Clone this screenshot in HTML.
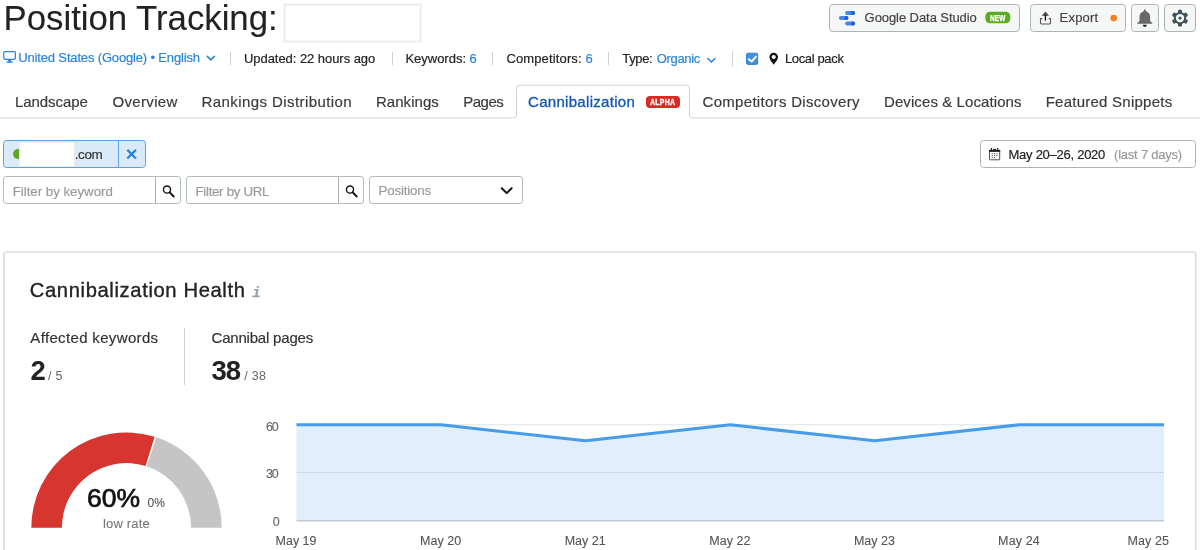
<!DOCTYPE html>
<html><head><meta charset="utf-8"><title>Position Tracking</title>
<style>
*{box-sizing:border-box;margin:0;padding:0}
html,body{width:1200px;height:550px;overflow:hidden;background:#fff}
body{font-family:"Liberation Sans", sans-serif;color:#333;position:relative}
.a{position:absolute}
.t{position:absolute;white-space:nowrap;line-height:1}
.L{position:absolute;left:0;top:0;width:1200px;height:550px;will-change:transform}
.sep{position:absolute;width:1px;background:#cfcfcf}
.btn{position:absolute;border:1px solid #adb4b8;border-radius:3.5px;background:#f5f6f6}
.inp{position:absolute;border:1px solid #b4bcc0;border-radius:3px;background:#fff}
svg{position:absolute;overflow:visible}
</style></head><body>
<div class="L">
<!-- title redaction box -->
<svg style="left:0;top:0" width="1200" height="550" viewBox="0 0 1200 550"><rect x="284.5" y="4.5" width="136" height="37" fill="#fff" stroke="#ececec" stroke-width="2"/></svg>

<!-- monitor icon -->
<svg style="left:0;top:0" width="1200" height="550" viewBox="0 0 1200 550">
 <g fill="none" stroke="#2b84d8" stroke-width="1.2">
  <rect x="3.8" y="51.7" width="11.6" height="7.6" rx="1.3"/>
 </g>
 <path d="M8.2 59.5h2.8v2h1.8v1.2H6.4v-1.2h1.8z" fill="#2b84d8"/>
 <!-- chevrons -->
 <path d="M207.3 56.4l3.5 3.5 3.5-3.5" fill="none" stroke="#2b84d8" stroke-width="1.5" stroke-linecap="round" stroke-linejoin="round"/>
 <path d="M707.9 58.5l3.5 3.5 3.5-3.5" fill="none" stroke="#2b84d8" stroke-width="1.5" stroke-linecap="round" stroke-linejoin="round"/>
 <!-- checkbox -->
 <rect x="746.5" y="53.2" width="11.2" height="11.2" rx="1.4" fill="#438fdd" stroke="#2b84d8" stroke-width="1"/>
 <path d="M748.8 59.3l2.8 2.3 4.4-5" fill="none" stroke="#fff" stroke-width="1.9" stroke-linecap="round" stroke-linejoin="round"/>
 <!-- pin -->
 <path d="M773.7 52.8a4.3 4.3 0 0 1 4.3 4.3c0 2.6-2.6 5.2-4.3 7.7c-1.7-2.5-4.3-5.1-4.3-7.7a4.3 4.3 0 0 1 4.3-4.3z" fill="#111"/>
 <circle cx="773.7" cy="57" r="2.1" fill="#fff"/>
</svg>
<div class="sep" style="left:230px;top:52px;height:13px"></div>
<div class="sep" style="left:392px;top:52px;height:13px"></div>
<div class="sep" style="left:492px;top:52px;height:13px"></div>
<div class="sep" style="left:608px;top:52px;height:13px"></div>
<div class="sep" style="left:732px;top:51px;height:15px"></div>

<!-- top-right buttons -->
<div class="btn" style="left:829px;top:4px;width:191px;height:28px"></div>
<div class="btn" style="left:1030px;top:4px;width:95.5px;height:28px"></div>
<div class="btn" style="left:1131px;top:4px;width:28px;height:28px"></div>
<div class="btn" style="left:1164px;top:4px;width:32px;height:28px"></div>
<svg style="left:0;top:0" width="1200" height="550" viewBox="0 0 1200 550">
 <!-- data studio -->
 <rect x="845.1" y="10.9" width="9.9" height="4" rx="2" fill="#4a86ea"/>
 <rect x="851" y="10.9" width="4" height="4" rx="2" fill="#1a5fe0"/>
 <rect x="838.9" y="16.1" width="9.5" height="4" rx="2" fill="#4a86ea"/>
 <rect x="844.4" y="16.1" width="4" height="4" rx="2" fill="#1a5fe0"/>
 <rect x="845.1" y="21.6" width="9.9" height="4" rx="2" fill="#4a86ea"/>
 <rect x="851" y="21.6" width="4" height="4" rx="2" fill="#1a5fe0"/>
 <!-- new badge -->
 <rect x="985.4" y="11.7" width="24.9" height="11.6" rx="4.5" fill="#5cab25"/>
 <!-- export icon -->
 <path d="M1045.4 11.8l3.7 4h-7.4z" fill="#444"/>
 <path d="M1045.4 15v5.6" stroke="#111" stroke-width="1.3" fill="none"/>
 <path d="M1042.3 18.6h-1.8v4.5q0 .9 .9 .9h8.2q.9 0 .9-.9v-4.5h-1.8" fill="none" stroke="#555" stroke-width="1.1"/>
 <!-- orange dot -->
 <circle cx="1113.8" cy="18.1" r="3.3" fill="#f0811f"/>
 <!-- bell -->
 <path d="M1144.8 9.6a1 1 0 0 1 1 1v.7c2.6.5 4.3 2.7 4.3 5.5v4.2l2.2 2v.8h-15v-.8l2.2-2v-4.2c0-2.8 1.7-5 4.3-5.5v-.7a1 1 0 0 1 1-1z" fill="#686868"/>
 <path d="M1142.7 24.8h4.2a2.1 2.1 0 0 1-4.2 0z" fill="#222"/>
 <!-- gear -->
 <g transform="translate(1180 18.1)" fill="#3f5159">
  <circle r="6.2"/>
  <g>
   <rect x="-2" y="-8.3" width="4" height="16.6" rx="1"/>
   <rect x="-2" y="-8.3" width="4" height="16.6" rx="1" transform="rotate(60)"/>
   <rect x="-2" y="-8.3" width="4" height="16.6" rx="1" transform="rotate(120)"/>
  </g>
  <circle r="4.2" fill="#f7f8f8"/>
  <circle r="1.6"/>
 </g>
</svg>
<div class="t" style="left:989.8px;top:14.2px;font-size:8.3px;font-weight:700;color:#fff;letter-spacing:.2px;-webkit-text-stroke:.25px #fff;transform:scaleX(.78);transform-origin:0 0">NEW</div>

<!-- tabs -->
<svg style="left:0;top:0" width="1200" height="550" viewBox="0 0 1200 550">
 <path d="M0 118H513.5Q516.5 118 516.5 115V88.6Q516.5 85.1 520 85.1H686Q689.5 85.1 689.5 88.6V115Q689.5 118 692.5 118H1200" fill="none" stroke="#cfd2d5" stroke-width="1"/>
</svg>
<div class="a" style="left:646.4px;top:96.3px;width:34px;height:11.6px;border-radius:4px;background:#dc2a22"></div>
<div class="t" style="left:650px;top:98.3px;font-size:8.4px;font-weight:700;color:#fff;letter-spacing:.3px;-webkit-text-stroke:.3px #fff;transform:scaleX(.83);transform-origin:0 0">ALPHA</div>

<!-- domain chip -->
<div class="a" style="left:3px;top:140px;width:142.5px;height:28px;border:1px solid #5f9fe3;border-radius:3.5px;background:#dbeaf8"></div>
<div class="a" style="left:118px;top:140px;width:1px;height:28px;background:#5f9fe3"></div>
<div class="a" style="left:13px;top:149.2px;width:10px;height:10px;border-radius:5px;background:#59a81f"></div>
<div class="a" style="left:20px;top:142.8px;width:53.5px;height:23.4px;background:#fff;box-shadow:0 0 0 1px #ececec"></div>
<svg style="left:0;top:0" width="1200" height="550" viewBox="0 0 1200 550">
 <path d="M127.3 149.9l8.6 8.6M135.9 149.9l-8.6 8.6" stroke="#2b80d8" stroke-width="2.2" fill="none"/>
</svg>

<!-- filters -->
<div class="inp" style="left:3px;top:176px;width:178px;height:28px"></div>
<div class="a" style="left:155px;top:177px;width:1px;height:26px;background:#a9adb0"></div>
<div class="inp" style="left:186px;top:176px;width:178px;height:28px"></div>
<div class="a" style="left:338px;top:177px;width:1px;height:26px;background:#a9adb0"></div>
<div class="inp" style="left:369px;top:176px;width:154px;height:28px"></div>
<svg style="left:0;top:0" width="1200" height="550" viewBox="0 0 1200 550">
 <g fill="none" stroke="#111">
  <circle cx="167" cy="189.6" r="3.55" stroke-width="1.4"/>
  <path d="M169.7 192.4l4 4.1" stroke-width="1.9" stroke-linecap="round"/>
  <circle cx="350" cy="189.6" r="3.55" stroke-width="1.4"/>
  <path d="M352.7 192.4l4 4.1" stroke-width="1.9" stroke-linecap="round"/>
  <path d="M501.8 188.2l4.9 4.9 4.9-4.9" stroke-width="2" stroke-linecap="round" stroke-linejoin="round"/>
 </g>
</svg>

<!-- date button -->
<div class="a" style="left:980px;top:140px;width:216px;height:28px;border:1px solid #aab4b8;border-radius:3.5px;background:#fff"></div>
<svg style="left:0;top:0" width="1200" height="550" viewBox="0 0 1200 550">
 <rect x="989.5" y="150.4" width="10.2" height="9.4" rx=".8" fill="#fff" stroke="#3a3a3a" stroke-width=".9"/>
 <rect x="989" y="149.9" width="11.2" height="2" fill="#222"/>
 <rect x="990.8" y="148" width="1.2" height="2.2" fill="#222"/>
 <rect x="997.1" y="148" width="1.2" height="2.2" fill="#222"/>
 <rect x="993.2" y="148.8" width="2.8" height="1.5" fill="#222"/>
 <g fill="#555">
  <rect x="991.7" y="153.1" width="1.1" height="1.1"/><rect x="994" y="153.1" width="1.1" height="1.1"/><rect x="996.3" y="153.1" width="1.1" height="1.1"/>
  <rect x="991.7" y="155.1" width="1.1" height="1.1"/><rect x="994" y="155.1" width="1.1" height="1.1"/><rect x="996.3" y="155.1" width="1.1" height="1.1"/>
  <rect x="991.7" y="157.1" width="1.1" height="1.1"/><rect x="994" y="157.1" width="1.1" height="1.1"/>
 </g>
</svg>

<!-- panel -->
<svg style="left:0;top:0" width="1200" height="550" viewBox="0 0 1200 550"><rect x="3.9" y="252" width="1191.8" height="320" rx="2.5" fill="#fff" stroke="#dcdddd" stroke-width="1.7"/></svg>
<div class="a" style="left:184px;top:327.5px;width:1px;height:57px;background:#d0d0d0"></div>
<div class="t" style="left:252.3px;top:285.6px;font-size:14px;font-family:'Liberation Mono',monospace;font-style:italic;font-weight:700;color:#93a2ad;-webkit-text-stroke:.25px #93a2ad">i</div>

<!-- gauge + chart -->
<svg style="left:0;top:0" width="1200" height="550" viewBox="0 0 1200 550">
 <!-- gauge: centre (126.4,527.8) R 95.9 r 64.8 -->
 <path d="M31.3 527.7A95.2 95.2 0 0 1 154.64 436.75L145.59 465.99A64.6 64.6 0 0 0 61.9 527.7z" fill="#d7352f"/>
 <path d="M156.34 437.3A95.2 95.2 0 0 1 221.7 527.7L191.1 527.7A64.6 64.6 0 0 0 146.75 466.36z" fill="#c5c5c5"/>
 <!-- chart -->
 <line x1="296.5" x2="1164" y1="424.8" y2="424.8" stroke="#dfe3e6" stroke-width="1"/>
 <path d="M296.5 424.8L441.1 424.8 585.7 440.8 730.3 424.8 874.8 440.8 1019.4 424.8 1164 424.8V520.8H296.5z" fill="#e1eefb"/>
 <line x1="296.5" x2="1164" y1="472.5" y2="472.5" stroke="#c9d9ea" stroke-width="1"/>
 <line x1="296.5" x2="1164" y1="520.8" y2="520.8" stroke="#bfcad6" stroke-width="1.6"/>
 <path d="M296.5 424.8L441.1 424.8 585.7 440.8 730.3 424.8 874.8 440.8 1019.4 424.8 1164 424.8" fill="none" stroke="#469ce8" stroke-width="3.1" stroke-linejoin="round"/>
</svg>

<div class="t" style="left:3.60px;top:1.00px;font-size:34.8px;color:#222;letter-spacing:-0.035px;-webkit-text-stroke:0.1px #222">Position Tracking:</div>
<div class="t" style="left:18.30px;top:51.00px;font-size:13px;color:#2b84d8;letter-spacing:-0.159px;-webkit-text-stroke:0.18px #2b84d8">United States (Google) • English</div>
<div class="t" style="left:244.00px;top:52.00px;font-size:13px;color:#222;letter-spacing:-0.052px;-webkit-text-stroke:0.18px #222">Updated: 22 hours ago</div>
<div class="t" style="left:405.40px;top:52.00px;font-size:13px;color:#222;letter-spacing:-0.010px;-webkit-text-stroke:0.18px #222">Keywords:</div>
<div class="t" style="left:469.60px;top:52.00px;font-size:13px;color:#2b84d8;letter-spacing:0.000px;-webkit-text-stroke:0.18px #2b84d8">6</div>
<div class="t" style="left:506.40px;top:52.00px;font-size:13px;color:#222;letter-spacing:0.138px;-webkit-text-stroke:0.18px #222">Competitors:</div>
<div class="t" style="left:585.40px;top:52.00px;font-size:13px;color:#2b84d8;letter-spacing:0.000px;-webkit-text-stroke:0.18px #2b84d8">6</div>
<div class="t" style="left:622.30px;top:52.00px;font-size:13px;color:#222;letter-spacing:-0.371px;-webkit-text-stroke:0.18px #222">Type:</div>
<div class="t" style="left:656.80px;top:52.00px;font-size:13px;color:#2b84d8;letter-spacing:-0.337px;-webkit-text-stroke:0.18px #2b84d8">Organic</div>
<div class="t" style="left:784.90px;top:52.00px;font-size:13px;color:#222;letter-spacing:-0.350px;-webkit-text-stroke:0.18px #222">Local pack</div>
<div class="t" style="left:864.60px;top:11.00px;font-size:13px;color:#444;letter-spacing:-0.073px;-webkit-text-stroke:0.18px #444">Google Data Studio</div>
<div class="t" style="left:1059.60px;top:11.00px;font-size:13px;color:#444;letter-spacing:0.208px;-webkit-text-stroke:0.18px #444">Export</div>
<div class="t" style="left:15.00px;top:94.00px;font-size:15px;color:#3a3a3a;letter-spacing:-0.069px;-webkit-text-stroke:0.18px #3a3a3a">Landscape</div>
<div class="t" style="left:112.50px;top:94.00px;font-size:15px;color:#3a3a3a;letter-spacing:0.331px;-webkit-text-stroke:0.18px #3a3a3a">Overview</div>
<div class="t" style="left:201.50px;top:94.00px;font-size:15px;color:#3a3a3a;letter-spacing:0.418px;-webkit-text-stroke:0.18px #3a3a3a">Rankings Distribution</div>
<div class="t" style="left:376.00px;top:94.00px;font-size:15px;color:#3a3a3a;letter-spacing:0.031px;-webkit-text-stroke:0.18px #3a3a3a">Rankings</div>
<div class="t" style="left:463.25px;top:94.00px;font-size:15px;color:#3a3a3a;letter-spacing:-0.508px;-webkit-text-stroke:0.18px #3a3a3a">Pages</div>
<div class="t" style="left:528.00px;top:94.00px;font-size:15px;color:#0f55b5;letter-spacing:0.305px;-webkit-text-stroke:0.3px #0f55b5">Cannibalization</div>
<div class="t" style="left:702.50px;top:94.00px;font-size:15px;color:#3a3a3a;letter-spacing:0.306px;-webkit-text-stroke:0.18px #3a3a3a">Competitors Discovery</div>
<div class="t" style="left:884.00px;top:94.00px;font-size:15px;color:#3a3a3a;letter-spacing:0.089px;-webkit-text-stroke:0.18px #3a3a3a">Devices &amp; Locations</div>
<div class="t" style="left:1045.70px;top:94.00px;font-size:15px;color:#3a3a3a;letter-spacing:0.245px;-webkit-text-stroke:0.18px #3a3a3a">Featured Snippets</div>
<div class="t" style="left:74.80px;top:148.00px;font-size:13.5px;color:#333;letter-spacing:-0.436px;-webkit-text-stroke:0.18px #333">.com</div>
<div class="t" style="left:12.70px;top:185.00px;font-size:13.3px;color:#9a9a9a;letter-spacing:-0.019px;-webkit-text-stroke:0.18px #9a9a9a">Filter by keyword</div>
<div class="t" style="left:195.50px;top:185.00px;font-size:13.3px;color:#9a9a9a;letter-spacing:-0.299px;-webkit-text-stroke:0.18px #9a9a9a">Filter by URL</div>
<div class="t" style="left:378.50px;top:184.00px;font-size:13.3px;color:#9a9a9a;letter-spacing:-0.176px;-webkit-text-stroke:0.18px #9a9a9a">Positions</div>
<div class="t" style="left:1008.50px;top:148.00px;font-size:13px;color:#222;letter-spacing:-0.260px;-webkit-text-stroke:0.18px #222">May 20–26, 2020</div>
<div class="t" style="left:1114.10px;top:148.00px;font-size:13px;color:#999;letter-spacing:-0.231px;-webkit-text-stroke:0.18px #999">(last 7 days)</div>
<div class="t" style="left:29.80px;top:280.00px;font-size:20.2px;color:#222;letter-spacing:0.625px;-webkit-text-stroke:0.35px #222">Cannibalization Health</div>
<div class="t" style="left:30.30px;top:330.00px;font-size:15px;color:#333;letter-spacing:0.345px;-webkit-text-stroke:0.18px #333">Affected keywords</div>
<div class="t" style="left:211.50px;top:330.00px;font-size:15px;color:#333;letter-spacing:-0.196px;-webkit-text-stroke:0.18px #333">Cannibal pages</div>
<div class="t" style="left:30.40px;top:357.00px;font-size:27.5px;color:#222;letter-spacing:0.000px;font-weight:700">2</div>
<div class="t" style="left:48.00px;top:370.00px;font-size:12.5px;color:#666;letter-spacing:0.277px">/ 5</div>
<div class="t" style="left:211.60px;top:357.00px;font-size:27.5px;color:#222;letter-spacing:-1.094px;font-weight:700">38</div>
<div class="t" style="left:244.30px;top:370.00px;font-size:12.5px;color:#666;letter-spacing:0.301px">/ 38</div>
<div class="t" style="left:86.90px;top:485.00px;font-size:26.5px;color:#111;letter-spacing:0.012px;-webkit-text-stroke:0.7px #111">60%</div>
<div class="t" style="left:147.60px;top:497.00px;font-size:12px;color:#555;letter-spacing:-0.074px;-webkit-text-stroke:0.1px #555">0%</div>
<div class="t" style="left:102.90px;top:517.00px;font-size:13px;color:#777;letter-spacing:0.202px;-webkit-text-stroke:0.1px #777">low rate</div>
<div class="t" style="left:265.90px;top:421.00px;font-size:12.5px;color:#666;letter-spacing:-1.152px;-webkit-text-stroke:0.1px #666">60</div>
<div class="t" style="left:265.90px;top:468.00px;font-size:12.5px;color:#666;letter-spacing:-1.152px;-webkit-text-stroke:0.1px #666">30</div>
<div class="t" style="left:272.70px;top:516.00px;font-size:12.5px;color:#666;letter-spacing:0.000px;-webkit-text-stroke:0.1px #666">0</div>
<div class="t" style="left:275.60px;top:535.00px;font-size:12.5px;color:#555;letter-spacing:-0.028px;-webkit-text-stroke:0.1px #555">May 19</div>
<div class="t" style="left:420.00px;top:535.00px;font-size:12.5px;color:#555;letter-spacing:0.032px;-webkit-text-stroke:0.1px #555">May 20</div>
<div class="t" style="left:564.70px;top:535.00px;font-size:12.5px;color:#555;letter-spacing:0.012px;-webkit-text-stroke:0.1px #555">May 21</div>
<div class="t" style="left:709.30px;top:535.00px;font-size:12.5px;color:#555;letter-spacing:0.012px;-webkit-text-stroke:0.1px #555">May 22</div>
<div class="t" style="left:853.90px;top:535.00px;font-size:12.5px;color:#555;letter-spacing:0.012px;-webkit-text-stroke:0.1px #555">May 23</div>
<div class="t" style="left:998.10px;top:535.00px;font-size:12.5px;color:#555;letter-spacing:0.132px;-webkit-text-stroke:0.1px #555">May 24</div>
<div class="t" style="left:1127.50px;top:535.00px;font-size:12.5px;color:#555;letter-spacing:0.092px;-webkit-text-stroke:0.1px #555">May 25</div>
</div>
</body></html>
